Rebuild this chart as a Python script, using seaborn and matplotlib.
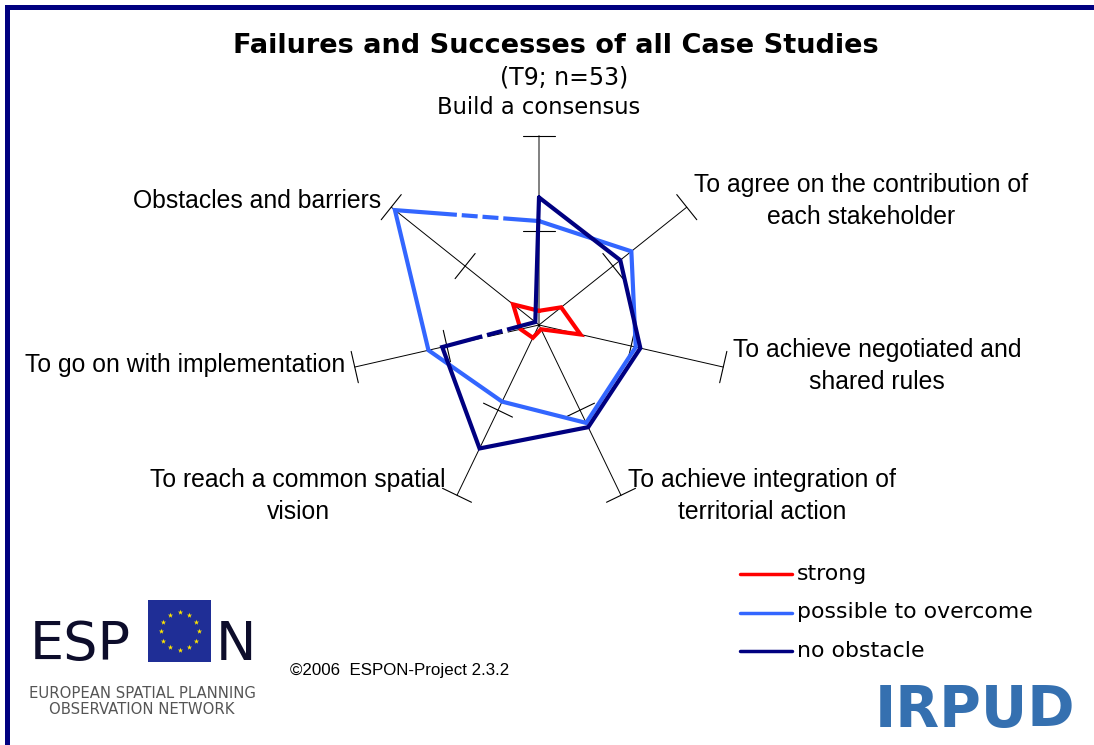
import numpy as np
import pandas as pd
import matplotlib
matplotlib.use("Agg")
import matplotlib.pyplot as plt
import seaborn as sns
from matplotlib.patches import Rectangle

# radar categories, clockwise from the top
categories = [
    "Build a consensus",
    "To agree on the contribution of\neach stakeholder",
    "To achieve negotiated and\nshared rules",
    "To achieve integration of\nterritorial action",
    "To reach a common spatial\nvision",
    "To go on with implementation",
    "Obstacles and barriers",
]
strong = [3, 6, 9, 1, 3, 4, 7]
possible = [22, 25, 21, 23, 18, 24, 39]
no_obstacle = [27, 22, 22, 24, 29, 21, 1]
series = ["strong", "possible to overcome", "no obstacle"]
colors = ["#FF0000", "#3366FF", "#000080"]
scale_max = 40
scale_ticks = [20, 40]

W, H = 1094, 745
cx, cy, R = 539, 325, 189

sns.set_theme(style="white")
plt.rcParams["font.family"] = ["Liberation Sans", "DejaVu Sans"]
plt.rcParams["text.color"] = "black"
plt.rcParams["lines.solid_joinstyle"] = "miter"

fig = plt.figure(figsize=(W / 100, H / 100), dpi=100)

# pixel space for frame, logos, texts
deco = fig.add_axes([0, 0, 1, 1])
deco.set_xlim(0, W)
deco.set_ylim(H, 0)
deco.axis("off")

ax = fig.add_axes([0, 0, 1, 1])

n = len(categories)
angles = np.pi / 2 - 2 * np.pi * np.arange(n) / n

# spokes with tick marks
for i, a in enumerate(angles):
    c = "#808080" if i == 0 else "black"
    lw = 1.4 if i == 0 else 0.7
    ax.plot([0, np.cos(a)], [0, np.sin(a)], color=c, lw=lw, zorder=1)
    for t in scale_ticks:
        r = t / scale_max
        dx, dy = -np.sin(a) * 0.085, np.cos(a) * 0.085
        ax.plot([r * np.cos(a) - dx, r * np.cos(a) + dx],
                [r * np.sin(a) - dy, r * np.sin(a) + dy],
                color="black", lw=0.8, zorder=1)

rows = []
for name, vals in zip(series, [strong, possible, no_obstacle]):
    for k in list(range(n)) + [0]:
        r = vals[k] / scale_max
        rows.append({"series": name,
                     "x": r * np.cos(angles[k]),
                     "y": r * np.sin(angles[k])})
df = pd.DataFrame(rows)

sns.lineplot(
    data=df, x="x", y="y", hue="series",
    palette=dict(zip(series, colors)),
    sort=False, estimator=None, lw=3, legend=False, ax=ax
)


def gap_edge(vals, k0, k1, t0=0.43, t1=0.86):
    p0 = np.array([np.cos(angles[k0]), np.sin(angles[k0])]) * vals[k0] / scale_max
    p1 = np.array([np.cos(angles[k1]), np.sin(angles[k1])]) * vals[k1] / scale_max
    a = p0 + (p1 - p0) * t0
    b = p0 + (p1 - p0) * t1
    ax.plot([a[0], b[0]], [a[1], b[1]], color="white", lw=5,
            linestyle=(0, (0.7, 2.3)), solid_capstyle="butt",
            dash_capstyle="butt", zorder=5)


# broken segments as in the original
gap_edge(possible, 6, 0)
gap_edge(no_obstacle, 5, 6)

ax.set_xlim(-cx / R, (W - cx) / R)
ax.set_ylim(-(H - cy) / R, cy / R)
ax.axis("off")

# frame
deco.add_patch(Rectangle((5, 5), W - 5, 5, color="#000080", lw=0))
deco.add_patch(Rectangle((5, 5), 5, H - 5, color="#000080", lw=0))

# titles
deco.text(556, 46, "Failures and Successes of all Case Studies", ha="center", va="center",
          fontsize=19.5, fontweight="bold", family="DejaVu Sans")
deco.text(564, 77, "(T9; n=53)", ha="center", va="center", fontsize=17, family="DejaVu Sans")

# category labels
label_pos = [(539, 107, "center"), (861, 201, "center"), (877, 366, "center"),
             (762, 496, "center"), (298, 496, "center"), (345, 365, "right"),
             (381, 201, "right")]
for i, (lbl, (x, y, ha)) in enumerate(zip(categories, label_pos)):
    if i == 0:
        deco.text(x, y, lbl, ha=ha, va="center", fontsize=16.3, family="DejaVu Sans")
    else:
        deco.text(x, y, lbl, ha=ha, va="center", fontsize=17.8, linespacing=1.43,
                  multialignment="center")

# legend
for j, (name, c) in enumerate(zip(series, colors)):
    y = 574 + j * 38.5
    deco.plot([740, 792], [y, y], color=c, lw=2.5)
    deco.text(797, y, name, va="center", fontsize=15.8, family="DejaVu Sans")

# ESPON logo
deco.text(30, 660, "ESP", fontsize=39, family="DejaVu Sans", color="#0D0D2B", va="baseline")
deco.add_patch(Rectangle((148, 600), 63, 62, color="#1F2E96", lw=0))
star_a = np.linspace(0, 2 * np.pi, 12, endpoint=False)
deco.scatter(179.5 + 19 * np.cos(star_a), 631 + 19 * np.sin(star_a),
             marker="*", s=16, color="#FFE600", lw=0)
deco.text(216, 660, "N", fontsize=39, family="DejaVu Sans", color="#0D0D2B", va="baseline")
deco.text(142, 694, "EUROPEAN SPATIAL PLANNING", ha="center", va="center",
          fontsize=10.7, family="DejaVu Sans", color="#555555")
deco.text(142, 710, "OBSERVATION NETWORK", ha="center", va="center",
          fontsize=10.7, family="DejaVu Sans", color="#555555")

deco.text(290, 670, "\u00a92006  ESPON-Project 2.3.2", va="center", fontsize=12.2)

# IRPUD logo
deco.text(975, 712, "IRPUD", ha="center", va="center", fontsize=41,
          fontweight="bold", family="DejaVu Sans", color="#3570B0")

fig.savefig("out.png", dpi=100)
